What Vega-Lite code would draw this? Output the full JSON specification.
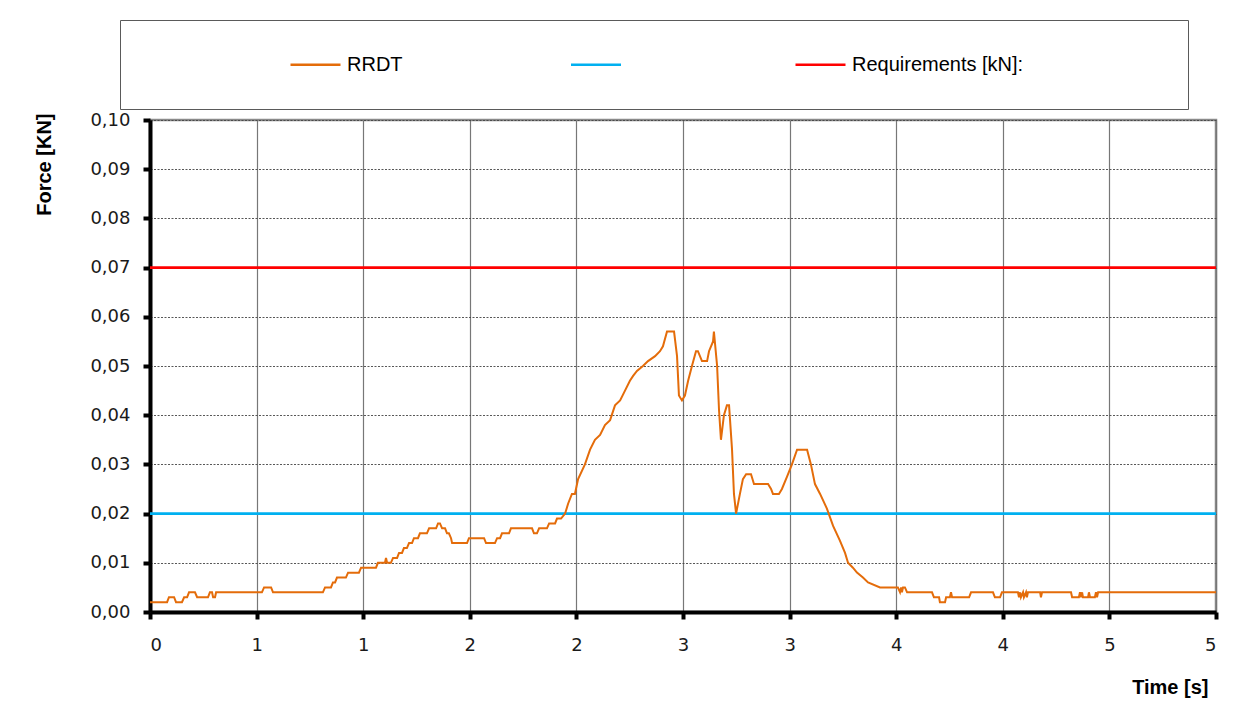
{
  "$schema": "https://vega.github.io/schema/vega-lite/v6.json",
  "width": 1066,
  "height": 492,
  "autosize": {"type": "none"},
  "padding": {"left": 150, "top": 120, "right": 28, "bottom": 110},
  "background": "white",
  "config": {
    "view": {"stroke": "#8a8a8a", "strokeWidth": 2.5},
    "axis": {
      "labelFont": "DejaVu Sans",
      "labelFontSize": 18,
      "labelColor": "#1a1a1a",
      "titleFont": "Liberation Sans",
      "titleFontSize": 20,
      "titleFontWeight": "bold",
      "titleColor": "black",
      "domainColor": "black",
      "domainWidth": 4,
      "tickColor": "black",
      "tickWidth": 4,
      "tickSize": 7
    }
  },
  "datasets": {
    "force": [
      {"series":"RRDT","time":0,"force":0.002},
      {"series":"RRDT","time":0.080,"force":0.002},
      {"series":"RRDT","time":0.089,"force":0.003},
      {"series":"RRDT","time":0.113,"force":0.003},
      {"series":"RRDT","time":0.122,"force":0.002},
      {"series":"RRDT","time":0.150,"force":0.002},
      {"series":"RRDT","time":0.160,"force":0.003},
      {"series":"RRDT","time":0.174,"force":0.003},
      {"series":"RRDT","time":0.183,"force":0.004},
      {"series":"RRDT","time":0.211,"force":0.004},
      {"series":"RRDT","time":0.221,"force":0.003},
      {"series":"RRDT","time":0.272,"force":0.003},
      {"series":"RRDT","time":0.281,"force":0.004},
      {"series":"RRDT","time":0.291,"force":0.004},
      {"series":"RRDT","time":0.296,"force":0.003},
      {"series":"RRDT","time":0.305,"force":0.003},
      {"series":"RRDT","time":0.310,"force":0.004},
      {"series":"RRDT","time":0.525,"force":0.004},
      {"series":"RRDT","time":0.535,"force":0.005},
      {"series":"RRDT","time":0.568,"force":0.005},
      {"series":"RRDT","time":0.577,"force":0.004},
      {"series":"RRDT","time":0.811,"force":0.004},
      {"series":"RRDT","time":0.821,"force":0.005},
      {"series":"RRDT","time":0.849,"force":0.005},
      {"series":"RRDT","time":0.858,"force":0.006},
      {"series":"RRDT","time":0.868,"force":0.006},
      {"series":"RRDT","time":0.877,"force":0.007},
      {"series":"RRDT","time":0.919,"force":0.007},
      {"series":"RRDT","time":0.929,"force":0.008},
      {"series":"RRDT","time":0.980,"force":0.008},
      {"series":"RRDT","time":0.990,"force":0.009},
      {"series":"RRDT","time":1.060,"force":0.009},
      {"series":"RRDT","time":1.069,"force":0.010},
      {"series":"RRDT","time":1.102,"force":0.010},
      {"series":"RRDT","time":1.107,"force":0.011},
      {"series":"RRDT","time":1.112,"force":0.010},
      {"series":"RRDT","time":1.130,"force":0.010},
      {"series":"RRDT","time":1.140,"force":0.011},
      {"series":"RRDT","time":1.159,"force":0.011},
      {"series":"RRDT","time":1.168,"force":0.012},
      {"series":"RRDT","time":1.182,"force":0.012},
      {"series":"RRDT","time":1.191,"force":0.013},
      {"series":"RRDT","time":1.205,"force":0.013},
      {"series":"RRDT","time":1.215,"force":0.014},
      {"series":"RRDT","time":1.229,"force":0.014},
      {"series":"RRDT","time":1.238,"force":0.015},
      {"series":"RRDT","time":1.257,"force":0.015},
      {"series":"RRDT","time":1.266,"force":0.016},
      {"series":"RRDT","time":1.299,"force":0.016},
      {"series":"RRDT","time":1.309,"force":0.017},
      {"series":"RRDT","time":1.342,"force":0.017},
      {"series":"RRDT","time":1.351,"force":0.018},
      {"series":"RRDT","time":1.360,"force":0.018},
      {"series":"RRDT","time":1.370,"force":0.017},
      {"series":"RRDT","time":1.384,"force":0.017},
      {"series":"RRDT","time":1.393,"force":0.016},
      {"series":"RRDT","time":1.402,"force":0.016},
      {"series":"RRDT","time":1.412,"force":0.015},
      {"series":"RRDT","time":1.417,"force":0.014},
      {"series":"RRDT","time":1.487,"force":0.014},
      {"series":"RRDT","time":1.496,"force":0.015},
      {"series":"RRDT","time":1.567,"force":0.015},
      {"series":"RRDT","time":1.576,"force":0.014},
      {"series":"RRDT","time":1.618,"force":0.014},
      {"series":"RRDT","time":1.628,"force":0.015},
      {"series":"RRDT","time":1.642,"force":0.015},
      {"series":"RRDT","time":1.651,"force":0.016},
      {"series":"RRDT","time":1.684,"force":0.016},
      {"series":"RRDT","time":1.693,"force":0.017},
      {"series":"RRDT","time":1.792,"force":0.017},
      {"series":"RRDT","time":1.801,"force":0.016},
      {"series":"RRDT","time":1.815,"force":0.016},
      {"series":"RRDT","time":1.825,"force":0.017},
      {"series":"RRDT","time":1.862,"force":0.017},
      {"series":"RRDT","time":1.872,"force":0.018},
      {"series":"RRDT","time":1.900,"force":0.018},
      {"series":"RRDT","time":1.909,"force":0.019},
      {"series":"RRDT","time":1.928,"force":0.019},
      {"series":"RRDT","time":1.947,"force":0.020},
      {"series":"RRDT","time":1.961,"force":0.022},
      {"series":"RRDT","time":1.979,"force":0.024},
      {"series":"RRDT","time":1.993,"force":0.024},
      {"series":"RRDT","time":2.008,"force":0.027},
      {"series":"RRDT","time":2.040,"force":0.030},
      {"series":"RRDT","time":2.064,"force":0.033},
      {"series":"RRDT","time":2.087,"force":0.035},
      {"series":"RRDT","time":2.111,"force":0.036},
      {"series":"RRDT","time":2.134,"force":0.038},
      {"series":"RRDT","time":2.158,"force":0.039},
      {"series":"RRDT","time":2.181,"force":0.042},
      {"series":"RRDT","time":2.205,"force":0.043},
      {"series":"RRDT","time":2.228,"force":0.045},
      {"series":"RRDT","time":2.251,"force":0.047},
      {"series":"RRDT","time":2.266,"force":0.048},
      {"series":"RRDT","time":2.284,"force":0.049},
      {"series":"RRDT","time":2.312,"force":0.050},
      {"series":"RRDT","time":2.336,"force":0.051},
      {"series":"RRDT","time":2.369,"force":0.052},
      {"series":"RRDT","time":2.392,"force":0.053},
      {"series":"RRDT","time":2.406,"force":0.054},
      {"series":"RRDT","time":2.425,"force":0.057},
      {"series":"RRDT","time":2.458,"force":0.057},
      {"series":"RRDT","time":2.472,"force":0.052},
      {"series":"RRDT","time":2.481,"force":0.044},
      {"series":"RRDT","time":2.495,"force":0.043},
      {"series":"RRDT","time":2.509,"force":0.044},
      {"series":"RRDT","time":2.524,"force":0.047},
      {"series":"RRDT","time":2.542,"force":0.050},
      {"series":"RRDT","time":2.561,"force":0.053},
      {"series":"RRDT","time":2.570,"force":0.053},
      {"series":"RRDT","time":2.589,"force":0.051},
      {"series":"RRDT","time":2.613,"force":0.051},
      {"series":"RRDT","time":2.622,"force":0.053},
      {"series":"RRDT","time":2.641,"force":0.055},
      {"series":"RRDT","time":2.645,"force":0.057},
      {"series":"RRDT","time":2.660,"force":0.050},
      {"series":"RRDT","time":2.669,"force":0.041},
      {"series":"RRDT","time":2.678,"force":0.035},
      {"series":"RRDT","time":2.692,"force":0.040},
      {"series":"RRDT","time":2.706,"force":0.042},
      {"series":"RRDT","time":2.716,"force":0.042},
      {"series":"RRDT","time":2.730,"force":0.033},
      {"series":"RRDT","time":2.739,"force":0.024},
      {"series":"RRDT","time":2.749,"force":0.020},
      {"series":"RRDT","time":2.767,"force":0.024},
      {"series":"RRDT","time":2.781,"force":0.027},
      {"series":"RRDT","time":2.796,"force":0.028},
      {"series":"RRDT","time":2.819,"force":0.028},
      {"series":"RRDT","time":2.833,"force":0.026},
      {"series":"RRDT","time":2.899,"force":0.026},
      {"series":"RRDT","time":2.913,"force":0.025},
      {"series":"RRDT","time":2.922,"force":0.024},
      {"series":"RRDT","time":2.950,"force":0.024},
      {"series":"RRDT","time":2.964,"force":0.025},
      {"series":"RRDT","time":2.988,"force":0.0275},
      {"series":"RRDT","time":3.011,"force":0.030},
      {"series":"RRDT","time":3.035,"force":0.033},
      {"series":"RRDT","time":3.082,"force":0.033},
      {"series":"RRDT","time":3.100,"force":0.030},
      {"series":"RRDT","time":3.119,"force":0.026},
      {"series":"RRDT","time":3.143,"force":0.024},
      {"series":"RRDT","time":3.175,"force":0.021},
      {"series":"RRDT","time":3.204,"force":0.0175},
      {"series":"RRDT","time":3.236,"force":0.0145},
      {"series":"RRDT","time":3.260,"force":0.012},
      {"series":"RRDT","time":3.274,"force":0.010},
      {"series":"RRDT","time":3.297,"force":0.009},
      {"series":"RRDT","time":3.316,"force":0.008},
      {"series":"RRDT","time":3.344,"force":0.007},
      {"series":"RRDT","time":3.368,"force":0.006},
      {"series":"RRDT","time":3.424,"force":0.005},
      {"series":"RRDT","time":3.508,"force":0.005},
      {"series":"RRDT","time":3.518,"force":0.004},
      {"series":"RRDT","time":3.523,"force":0.005},
      {"series":"RRDT","time":3.527,"force":0.004},
      {"series":"RRDT","time":3.532,"force":0.005},
      {"series":"RRDT","time":3.541,"force":0.005},
      {"series":"RRDT","time":3.551,"force":0.004},
      {"series":"RRDT","time":3.668,"force":0.004},
      {"series":"RRDT","time":3.677,"force":0.003},
      {"series":"RRDT","time":3.701,"force":0.003},
      {"series":"RRDT","time":3.705,"force":0.002},
      {"series":"RRDT","time":3.729,"force":0.002},
      {"series":"RRDT","time":3.734,"force":0.003},
      {"series":"RRDT","time":3.752,"force":0.003},
      {"series":"RRDT","time":3.757,"force":0.004},
      {"series":"RRDT","time":3.762,"force":0.003},
      {"series":"RRDT","time":3.842,"force":0.003},
      {"series":"RRDT","time":3.851,"force":0.004},
      {"series":"RRDT","time":3.954,"force":0.004},
      {"series":"RRDT","time":3.963,"force":0.003},
      {"series":"RRDT","time":3.987,"force":0.003},
      {"series":"RRDT","time":3.996,"force":0.004},
      {"series":"RRDT","time":4.071,"force":0.004},
      {"series":"RRDT","time":4.076,"force":0.003},
      {"series":"RRDT","time":4.081,"force":0.004},
      {"series":"RRDT","time":4.085,"force":0.003},
      {"series":"RRDT","time":4.095,"force":0.004},
      {"series":"RRDT","time":4.099,"force":0.003},
      {"series":"RRDT","time":4.109,"force":0.004},
      {"series":"RRDT","time":4.113,"force":0.003},
      {"series":"RRDT","time":4.118,"force":0.004},
      {"series":"RRDT","time":4.175,"force":0.004},
      {"series":"RRDT","time":4.179,"force":0.003},
      {"series":"RRDT","time":4.184,"force":0.004},
      {"series":"RRDT","time":4.320,"force":0.004},
      {"series":"RRDT","time":4.325,"force":0.003},
      {"series":"RRDT","time":4.357,"force":0.003},
      {"series":"RRDT","time":4.362,"force":0.004},
      {"series":"RRDT","time":4.367,"force":0.003},
      {"series":"RRDT","time":4.372,"force":0.004},
      {"series":"RRDT","time":4.376,"force":0.003},
      {"series":"RRDT","time":4.400,"force":0.003},
      {"series":"RRDT","time":4.404,"force":0.004},
      {"series":"RRDT","time":4.409,"force":0.003},
      {"series":"RRDT","time":4.432,"force":0.003},
      {"series":"RRDT","time":4.437,"force":0.004},
      {"series":"RRDT","time":4.442,"force":0.003},
      {"series":"RRDT","time":4.447,"force":0.004},
      {"series":"RRDT","time":5.0,"force":0.004}
    ],
    "limits": [
      {"series": "Blue", "force": 0.02},
      {"series": "Requirements [kN]:", "force": 0.07}
    ]
  },
  "encoding": {
    "y": {
      "field": "force",
      "type": "quantitative",
      "scale": {"domain": [0, 0.1], "nice": false, "zero": true},
      "axis": {
        "title": "Force [KN]",
        "values": [0, 0.01, 0.02, 0.03, 0.04, 0.05, 0.06, 0.07, 0.08, 0.09, 0.1],
        "labelExpr": "replace(format(datum.value, '.2f'), '.', ',')",
        "labelPadding": 13,
        "grid": true,
        "gridColor": "#444444",
        "gridDash": [2, 1.5],
        "gridWidth": 0.9,
        "titleAngle": 270,
        "titleAlign": "right",
        "titleBaseline": "alphabetic",
        "titleX": -100,
        "titleY": -7
      }
    },
    "color": {
      "field": "series",
      "type": "nominal",
      "scale": {
        "domain": ["RRDT", "Blue", "Requirements [kN]:"],
        "range": ["#E46C0A", "#00B0F0", "#FF0000"]
      },
      "legend": {
        "orient": "none",
        "legendX": -30,
        "legendY": -100,
        "direction": "horizontal",
        "title": "\u2800\u2800\u2800\u2800",
        "titleOrient": "left",
        "titlePadding": 48,
        "titleFont": "DejaVu Sans",
        "titleFontSize": 35,
        "titleFontWeight": "normal",
        "titleBaseline": "top",
        "titleLimit": 600,
        "labelExpr": "datum.label == 'Blue' ? '' : (datum.label == 'RRDT' ? 'RRDT' : datum.label + '\u00a0\u00a0\u2800\u2800\u2800\u2800\u2800\u2800\u2800\u2800\u2800')",
        "labelFont": "Liberation Sans",
        "labelFontSize": 20,
        "labelColor": "black",
        "labelLimit": 600,
        "labelOffset": 5,
        "columnPadding": 162.5,
        "symbolType": "stroke",
        "symbolSize": 2500,
        "symbolStrokeWidth": 2.5,
        "padding": 18,
        "strokeColor": "#5a5a5a",
        "fillColor": "white"
      }
    }
  },
  "layer": [
    {
      "data": {"name": "limits"},
      "mark": {"type": "rule", "strokeWidth": 2.8},
      "encoding": {}
    },
    {
      "data": {"name": "force"},
      "mark": {"type": "line", "strokeWidth": 2, "interpolate": "linear"},
      "encoding": {
        "x": {
          "field": "time",
          "type": "quantitative",
          "scale": {"domain": [0, 5], "nice": false},
          "axis": {
            "title": "Time [s]",
            "values": [0, 0.5, 1, 1.5, 2, 2.5, 3, 3.5, 4, 4.5, 5],
            "labelExpr": "format(round(datum.value), 'd')",
            "labelPadding": 17,
            "grid": true,
            "gridColor": "#777777",
            "gridWidth": 1.2,
            "titleAlign": "right",
            "titleBaseline": "alphabetic",
            "titleX": 1058,
            "titleY": 81
          }
        }
      }
    }
  ]
}
